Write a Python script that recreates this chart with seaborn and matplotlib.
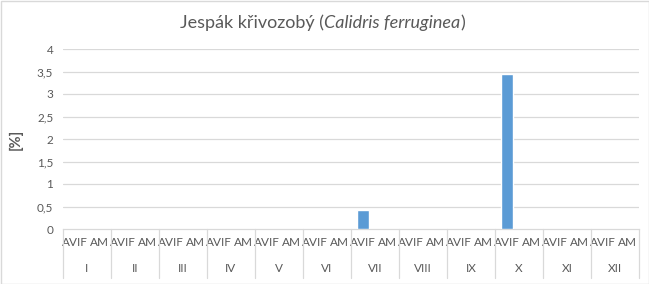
import matplotlib
matplotlib.use("Agg")
import matplotlib.pyplot as plt
import matplotlib.transforms as mtransforms
import seaborn as sns
import pandas as pd

months = ["I", "II", "III", "IV", "V", "VI", "VII", "VIII", "IX", "X", "XI", "XII"]
series = ["AVIF", "AM"]
avif_values = [0, 0, 0, 0, 0, 0, 0.43, 0, 0, 3.45, 0, 0]
am_values = [0, 0, 0, 0, 0, 0, 0, 0, 0, 0, 0, 0]
y_ticks = [0, 0.5, 1, 1.5, 2, 2.5, 3, 3.5, 4]
y_tick_labels = ["0", "0,5", "1", "1,5", "2", "2,5", "3", "3,5", "4"]
title_parts = ["Jespák křivozobý (", "Calidris ferruginea", ")"]
y_label = "[%]"

sns.set_theme(style="white")
plt.rcParams["font.family"] = ["Lato", "DejaVu Sans"]

rows = []
for m, a, b in zip(months, avif_values, am_values):
    rows.append({"key": f"{m}-AVIF", "month": m, "series": "AVIF", "value": a})
    rows.append({"key": f"{m}-AM", "month": m, "series": "AM", "value": b})
df = pd.DataFrame(rows)

W, H = 649, 284
fig = plt.figure(figsize=(W / 100, H / 100), dpi=100)
ax = fig.add_axes([63 / W, 1 - 229 / H, (639 - 63) / W, (229 - 49) / H])

text_color = "#595959"
grid_color = "#d9d9d9"

sns.barplot(data=df, x="key", y="value", order=list(df["key"]), color="#5B9BD5",
            width=0.5, saturation=1, ax=ax, errorbar=None, zorder=3)

ax.set_ylim(0, 4)
ax.set_xlim(-0.5, len(df) - 0.5)
ax.set_yticks(y_ticks)
ax.set_yticklabels(y_tick_labels, color=text_color, fontsize=8.5)
ax.set_xticks(range(len(df)))
ax.set_xticklabels(list(df["series"]), color=text_color, fontsize=8.5)
ax.tick_params(axis="both", length=0, pad=7)
ax.tick_params(axis="x", pad=6)
ax.set_xlabel("")
ax.set_ylabel(y_label, color=text_color, fontsize=10.5, fontweight="bold")
ax.yaxis.set_label_coords((23 - 63) / (639 - 63), (229 - 139) / (229 - 49))
for y in y_ticks[1:]:
    ax.axhline(y, color=grid_color, lw=0.9, zorder=0)
for s in ["top", "right", "left"]:
    ax.spines[s].set_visible(False)
ax.spines["bottom"].set_color(grid_color)
ax.spines["bottom"].set_linewidth(0.9)

trans = mtransforms.blended_transform_factory(ax.transData, ax.transAxes)
sep_bottom = -(278 - 229) / (229 - 49)
for i in range(len(months) + 1):
    x = i * 2 - 0.5
    ax.plot([x, x], [0, sep_bottom], transform=trans, color=grid_color, lw=0.9, clip_on=False)
for i, m in enumerate(months):
    ax.text(i * 2 + 0.5, -(268 - 229) / (229 - 49), m, transform=trans, ha="center", va="center",
            color=text_color, fontsize=8.5)

# title in parts (mixed upright / italic)
fig.canvas.draw()
renderer = fig.canvas.get_renderer()
styles = ["normal", "italic", "normal"]
texts = []
for part, st in zip(title_parts, styles):
    t = fig.text(0, 1 - 23 / H, part, fontsize=13, style=st, color=text_color, va="center", ha="left")
    texts.append(t)
widths = [t.get_window_extent(renderer).width for t in texts]
x0 = 323 - sum(widths) / 2
for t, w in zip(texts, widths):
    t.set_x(x0 / W)
    x0 += w

# outer border
fig.patches.append(plt.Rectangle((0.5 / W, 0.5 / H), 1 - 1 / W, 1 - 1 / H, transform=fig.transFigure,
                                 fill=False, edgecolor="#d9d9d9", lw=1))

fig.savefig("out.png", dpi=100)
